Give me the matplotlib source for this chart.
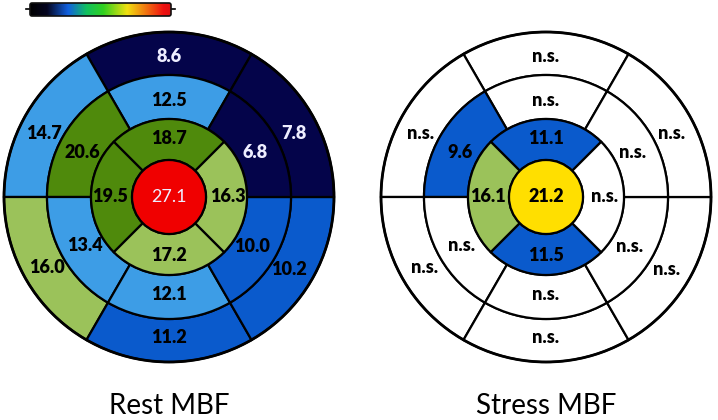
import numpy as np
import matplotlib.pyplot as plt
from matplotlib.patches import Wedge, Circle, FancyBboxPatch
from matplotlib.colors import LinearSegmentedColormap

# valores de los segmentos (modelo de 17 segmentos)
# orden anillos: anterior, anteroseptal, inferoseptal, inferior, inferolateral, anterolateral
rest_basal = ['8.6', '14.7', '16.0', '11.2', '10.2', '7.8']
rest_mid = ['12.5', '20.6', '13.4', '12.1', '10.0', '6.8']
rest_apical = ['18.7', '19.5', '17.2', '16.3']  # anterior, septal, inferior, lateral
rest_apex = '27.1'

stress_basal = ['n.s.', 'n.s.', 'n.s.', 'n.s.', 'n.s.', 'n.s.']
stress_mid = ['n.s.', '9.6', 'n.s.', 'n.s.', 'n.s.', 'n.s.']
stress_apical = ['11.1', '16.1', '11.5', 'n.s.']
stress_apex = '21.2'

titles = ['Rest MBF', 'Stress MBF']

# colores por segmento
NAVY, LBLUE, MBLUE = '#04044a', '#3d9de6', '#0a5acc'
DGREEN, LGREEN, RED, YEL, W = '#4f8a0c', '#9bc25a', '#f00000', '#ffdf00', 'white'
rest_colors = ([NAVY, LBLUE, LGREEN, MBLUE, MBLUE, NAVY],
               [LBLUE, DGREEN, LBLUE, LBLUE, MBLUE, NAVY],
               [DGREEN, DGREEN, LGREEN, LGREEN], RED)
stress_colors = ([W] * 6,
                 [W, MBLUE, W, W, W, W],
                 [MBLUE, LGREEN, MBLUE, W], YEL)

R = [165, 122, 78, 37]
label_ang6 = [90, 153, 210, 270, 329, 27]
label_ang4 = [90, 180, 270, 0]

plt.rcParams['font.family'] = ['Lato', 'DejaVu Sans']

fig = plt.figure(figsize=(7.18, 4.2), dpi=100)
ax = fig.add_axes([0, 0, 1, 1])
ax.set_xlim(0, 718)
ax.set_ylim(0, 420)
ax.axis('off')


def txt_color(c):
    return '#eeeeff' if c in (NAVY, RED) else 'black'


def bullseye(cx, cy, basal, mid, apical, apex, colors):
    cb, cm, ca, cx_apex = colors
    for ring, vals, cols, r_out, r_in in [(0, basal, cb, R[0], R[1]), (1, mid, cm, R[1], R[2])]:
        for i, (v, c) in enumerate(zip(vals, cols)):
            a0 = 60 + i * 60
            ax.add_patch(Wedge((cx, cy), r_out, a0, a0 + 60, width=r_out - r_in,
                               facecolor=c, edgecolor='black', lw=1.6))
            rr = (r_out + r_in) / 2 - 3
            a = np.deg2rad(label_ang6[i])
            ax.text(cx + rr * np.cos(a), cy + rr * np.sin(a), v, ha='center', va='center',
                    fontsize=13, fontweight='heavy', color=txt_color(c))
    for i, (v, c) in enumerate(zip(apical, ca)):
        a0 = 45 + i * 90
        ax.add_patch(Wedge((cx, cy), R[2], a0, a0 + 90, width=R[2] - R[3],
                           facecolor=c, edgecolor='black', lw=1.6))
        rr = (R[2] + R[3]) / 2 + 1
        a = np.deg2rad(label_ang4[i])
        ax.text(cx + rr * np.cos(a), cy + rr * np.sin(a), v, ha='center', va='center',
                fontsize=13, fontweight='heavy', color=txt_color(c))
    ax.add_patch(Circle((cx, cy), R[3], facecolor=cx_apex, edgecolor='black', lw=1.6))
    ax.text(cx, cy, apex, ha='center', va='center', fontsize=13,
            fontweight='heavy' if cx_apex != RED else 'normal', color=txt_color(cx_apex))
    ax.add_patch(Circle((cx, cy), R[0], facecolor='none', edgecolor='black', lw=2))


bullseye(169, 223, rest_basal, rest_mid, rest_apical, rest_apex, rest_colors)
bullseye(546, 223, stress_basal, stress_mid, stress_apical, stress_apex, stress_colors)

for x, t in zip([169, 546], titles):
    ax.text(x, 14, t, ha='center', va='center', fontsize=20)

# barra de colores arriba
cmap = LinearSegmentedColormap.from_list('mbf', [
    (0.0, '#000000'), (0.12, '#050520'), (0.27, '#1060e0'), (0.40, '#10c060'),
    (0.52, '#30d020'), (0.69, '#f0e010'), (0.83, '#f07010'), (0.95, '#f01010'), (1.0, '#e01010')])
grad = np.linspace(0, 1, 256)[None, :]
ax.imshow(grad, cmap=cmap, extent=(30, 171, 404, 417), aspect='auto', zorder=3)
ax.add_patch(FancyBboxPatch((30, 404), 141, 13, boxstyle='round,pad=0,rounding_size=2',
                            facecolor='none', edgecolor='#111111', lw=1.2, zorder=4))
ax.plot([26, 30], [411, 411], color='black', lw=1.2)
ax.plot([171, 175], [411, 411], color='black', lw=1.2)
ax.set_xlim(0, 718)
ax.set_ylim(0, 420)

fig.savefig('out.png', dpi=100)
